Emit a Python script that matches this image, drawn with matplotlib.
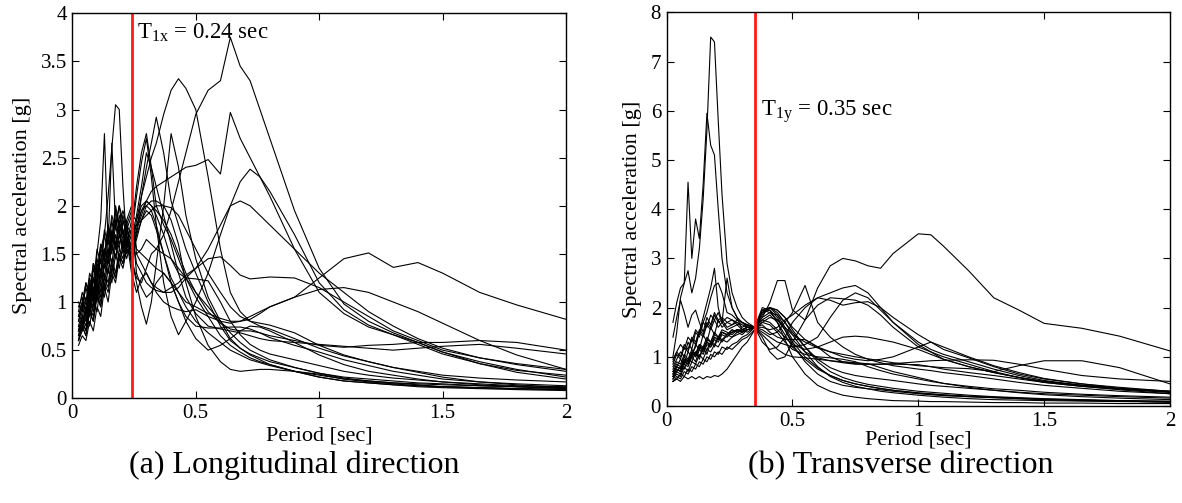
import matplotlib
matplotlib.use("Agg")
import matplotlib.pyplot as plt

plt.rcParams['font.family'] = ['Liberation Serif', 'DejaVu Serif']
plt.rcParams['mathtext.fontset'] = 'custom'
plt.rcParams['mathtext.rm'] = 'Liberation Serif'

# ---------------- longitudinal direction (periods in sec) ----------------
tx_short = [0.025, 0.04, 0.055, 0.07, 0.085, 0.10, 0.115, 0.13, 0.145, 0.16,
            0.175, 0.19, 0.205, 0.22, 0.24]
tx_long = [0.26, 0.28, 0.30, 0.32, 0.34, 0.37, 0.40, 0.43, 0.46, 0.50, 0.55,
           0.60, 0.64, 0.68, 0.72, 0.76, 0.80, 0.90, 1.00, 1.10, 1.20, 1.30,
           1.40, 1.50, 1.65, 1.80, 2.00]
period_x = tx_short + tx_long

lx01 = [0.95, 1.05, 0.90, 1.25, 1.10, 1.45, 1.30, 1.70, 1.50, 1.85, 1.60, 1.75, 1.50, 1.70, 1.45,
        1.25, 1.20, 1.35, 1.50, 1.55, 1.70, 1.95, 2.25, 2.55, 2.95, 3.20, 3.30, 3.75, 3.45, 3.30, 3.00,
        2.70, 1.95, 1.35, 0.98, 0.80, 0.68, 0.58, 0.48, 0.36, 0.27, 0.20]
lx02 = [0.80, 0.95, 1.15, 1.00, 1.35, 1.20, 1.55, 1.45, 1.75, 1.60, 1.85, 1.70, 1.90, 1.75, 1.90,
        1.85, 2.10, 2.30, 2.50, 2.65, 2.95, 3.20, 3.32, 3.22, 3.00, 2.30, 1.55, 1.10, 0.90, 0.80, 0.75,
        0.72, 0.62, 0.52, 0.44, 0.38, 0.32, 0.27, 0.22, 0.17, 0.14, 0.11]
lx03 = [0.70, 0.85, 0.80, 1.10, 1.00, 1.35, 1.25, 1.55, 1.45, 1.70, 1.55, 1.80, 1.65, 1.85, 1.35,
        1.75, 1.90, 2.05, 2.15, 2.20, 2.25, 2.30, 2.35, 2.40, 2.42, 2.48, 2.33, 2.97, 2.70, 2.50, 2.30,
        2.10, 1.55, 1.10, 0.88, 0.74, 0.66, 0.58, 0.48, 0.38, 0.30, 0.22]
lx04 = [0.75, 0.90, 1.05, 0.95, 1.25, 1.15, 1.45, 1.35, 1.65, 1.50, 1.80, 1.60, 1.75, 1.55, 1.70,
        2.10, 2.45, 2.70, 2.30, 1.80, 1.20, 0.85, 0.66, 0.80, 1.00, 1.30, 1.70, 2.00, 2.25, 2.38, 2.30,
        2.15, 1.70, 1.20, 0.92, 0.76, 0.66, 0.56, 0.46, 0.36, 0.29, 0.24]
lx05 = [1.00, 0.90, 1.20, 1.05, 1.40, 1.25, 1.60, 1.45, 1.80, 1.60, 1.95, 1.75, 1.55, 1.80, 1.95,
        1.50, 1.40, 1.30, 1.20, 1.15, 1.10, 1.10, 1.15, 1.25, 1.35, 1.55, 1.80, 2.00, 2.05, 2.00, 1.90,
        1.80, 1.55, 1.30, 1.10, 0.90, 0.75, 0.62, 0.52, 0.42, 0.36, 0.30]
lx06 = [0.60, 0.75, 0.65, 0.90, 0.80, 1.10, 0.95, 1.25, 1.15, 1.40, 1.25, 1.50, 1.40, 1.60, 1.55,
        1.70, 1.85, 1.95, 1.90, 1.75, 1.50, 1.25, 1.10, 1.00, 0.95, 0.88, 0.83, 0.80, 0.80, 0.82, 0.88,
        0.95, 1.05, 1.25, 1.45, 1.51, 1.36, 1.41, 1.30, 1.10, 0.97, 0.82]
lx07 = [0.65, 0.80, 0.70, 0.95, 0.85, 1.15, 1.00, 1.30, 1.20, 1.45, 1.30, 1.55, 1.45, 1.65, 1.30,
        1.10, 1.25, 1.30, 1.20, 1.10, 1.00, 0.95, 0.92, 0.90, 0.92, 0.85, 0.80, 0.78, 0.80, 0.85, 0.90,
        0.95, 1.05, 1.13, 1.15, 1.10, 1.00, 0.90, 0.78, 0.60, 0.45, 0.30]
lx08 = [0.85, 1.00, 0.90, 1.20, 1.05, 1.40, 1.30, 1.55, 1.40, 1.70, 1.55, 1.85, 1.70, 1.60, 1.75,
        1.40, 1.30, 1.20, 1.15, 1.12, 1.10, 1.15, 1.20, 1.28, 1.35, 1.45, 1.47, 1.38, 1.28, 1.24, 1.25,
        1.26, 1.25, 1.15, 1.00, 0.85, 0.70, 0.60, 0.50, 0.42, 0.35, 0.28]
lx09 = [0.70, 0.85, 0.75, 1.05, 0.95, 1.25, 1.10, 1.45, 1.30, 1.60, 1.45, 1.70, 1.55, 1.75, 1.65,
        1.80, 1.95, 2.05, 2.00, 1.95, 1.85, 1.70, 1.50, 1.30, 1.10, 0.90, 0.78, 0.72, 0.70, 0.70, 0.68,
        0.65, 0.60, 0.55, 0.53, 0.55, 0.56, 0.58, 0.58, 0.60, 0.58, 0.50]
lx10 = [0.60, 0.70, 0.85, 0.75, 1.00, 0.90, 1.20, 1.05, 1.35, 1.20, 1.50, 1.35, 1.60, 1.45, 1.65,
        1.90, 2.20, 2.55, 2.40, 2.20, 1.90, 1.60, 1.30, 1.05, 0.88, 0.75, 0.72, 0.70, 0.68, 0.65, 0.62,
        0.60, 0.58, 0.56, 0.54, 0.52, 0.50, 0.52, 0.54, 0.56, 0.52, 0.46]
lx11 = [0.90, 1.10, 1.00, 1.30, 1.20, 1.55, 1.40, 1.75, 1.60, 2.65, 1.80, 2.00, 1.85, 1.70, 1.75,
        2.20, 2.55, 2.75, 2.40, 2.00, 1.80, 1.65, 1.45, 1.25, 1.05, 0.85, 0.65, 0.55, 0.48, 0.42, 0.38,
        0.35, 0.28, 0.24, 0.20, 0.18, 0.16, 0.15, 0.14, 0.13, 0.12, 0.10]
lx12 = [0.75, 0.70, 0.95, 0.85, 1.15, 1.05, 1.35, 1.25, 1.55, 1.40, 1.70, 1.55, 1.85, 1.70, 1.40,
        1.70, 2.10, 2.40, 2.65, 2.92, 2.55, 2.05, 1.80, 1.55, 1.30, 1.00, 0.75, 0.60, 0.52, 0.46, 0.42,
        0.38, 0.32, 0.26, 0.22, 0.20, 0.18, 0.16, 0.15, 0.13, 0.12, 0.11]
lx13 = [0.55, 0.65, 0.60, 0.80, 0.70, 0.95, 0.85, 1.15, 1.00, 1.30, 1.20, 1.45, 1.35, 1.55, 1.45,
        1.20, 0.95, 0.77, 1.00, 1.40, 2.00, 2.75, 2.40, 1.90, 1.45, 1.05, 0.80, 0.62, 0.52, 0.45, 0.40,
        0.35, 0.28, 0.22, 0.18, 0.16, 0.14, 0.13, 0.12, 0.11, 0.10, 0.09]
lx14 = [0.70, 0.80, 0.95, 0.85, 1.10, 1.00, 1.30, 1.15, 1.45, 1.30, 1.60, 1.45, 1.65, 1.50, 1.60,
        1.75, 1.95, 2.00, 1.95, 1.80, 1.50, 1.20, 1.00, 0.85, 0.75, 0.73, 0.73, 0.74, 0.74, 0.72, 0.68,
        0.63, 0.55, 0.48, 0.40, 0.34, 0.28, 0.24, 0.20, 0.17, 0.15, 0.13]
lx15 = [0.60, 0.75, 0.65, 0.90, 0.80, 1.05, 0.95, 1.20, 1.10, 1.35, 1.25, 1.50, 1.40, 1.55, 1.50,
        1.65, 1.85, 2.00, 2.05, 2.05, 2.00, 1.85, 1.60, 1.20, 0.85, 0.55, 0.38, 0.30, 0.28, 0.29, 0.30,
        0.30, 0.28, 0.25, 0.20, 0.17, 0.15, 0.13, 0.12, 0.11, 0.10, 0.09]
lx16 = [0.80, 0.95, 0.85, 1.15, 1.00, 1.35, 1.20, 1.55, 1.40, 1.75, 1.55, 1.90, 1.75, 1.60, 1.85,
        1.30, 1.15, 1.05, 1.10, 1.20, 1.30, 1.20, 1.00, 0.80, 0.62, 0.50, 0.55, 0.62, 0.70, 0.75, 0.74,
        0.70, 0.58, 0.45, 0.35, 0.28, 0.24, 0.20, 0.17, 0.14, 0.12, 0.10]
lx17 = [0.65, 0.80, 0.70, 1.00, 0.90, 1.20, 1.05, 1.40, 1.30, 1.60, 1.45, 1.70, 1.60, 1.80, 1.50,
        1.85, 2.00, 2.05, 2.00, 1.90, 1.70, 1.45, 1.30, 1.25, 1.24, 1.22, 1.00, 0.80, 0.66, 0.56, 0.50,
        0.46, 0.40, 0.34, 0.28, 0.24, 0.21, 0.19, 0.17, 0.15, 0.13, 0.12]
lx18 = [0.85, 1.00, 1.20, 1.10, 1.40, 1.30, 1.60, 1.50, 1.80, 1.65, 2.00, 1.80, 1.95, 1.80, 1.70,
        1.80, 1.85, 1.90, 1.95, 2.00, 2.00, 1.98, 1.90, 1.75, 1.55, 1.30, 1.10, 0.95, 0.85, 0.80, 0.78,
        0.76, 0.68, 0.55, 0.45, 0.38, 0.32, 0.28, 0.24, 0.21, 0.19, 0.17]
lx19 = [0.70, 0.85, 1.00, 0.90, 1.25, 1.10, 1.55, 1.70, 2.10, 2.60, 3.05, 3.00, 2.20, 1.60, 1.55,
        1.50, 1.55, 1.65, 1.60, 1.55, 1.50, 1.45, 1.35, 1.25, 1.10, 0.95, 0.80, 0.68, 0.58, 0.50, 0.45,
        0.40, 0.32, 0.26, 0.21, 0.18, 0.16, 0.14, 0.12, 0.11, 0.10, 0.09]
lx20 = [0.60, 0.75, 0.90, 1.20, 1.05, 1.50, 1.85, 2.75, 1.60, 1.90, 1.75, 2.00, 1.70, 1.85, 2.00,
        1.55, 1.50, 1.45, 1.40, 1.35, 1.30, 1.20, 1.10, 0.95, 0.80, 0.68, 0.58, 0.50, 0.45, 0.40, 0.37,
        0.34, 0.28, 0.22, 0.18, 0.16, 0.14, 0.12, 0.11, 0.10, 0.09, 0.08]

# ---------------- transverse direction ----------------
ty_short = [0.025, 0.04, 0.055, 0.07, 0.085, 0.10, 0.115, 0.13, 0.145, 0.16,
            0.175, 0.19, 0.205, 0.22, 0.24, 0.26, 0.28, 0.30, 0.32, 0.35]
ty_long = [0.38, 0.41, 0.44, 0.47, 0.50, 0.55, 0.60, 0.65, 0.70, 0.75, 0.80,
           0.85, 0.90, 1.00, 1.05, 1.10, 1.20, 1.30, 1.40, 1.50, 1.65, 1.80, 2.00]
period_y = ty_short + ty_long

ly01 = [1.70, 2.10, 2.40, 2.50, 2.75, 2.30, 2.60, 3.20, 4.20, 5.60, 7.50, 7.40, 5.80, 4.30, 2.90, 2.30, 2.00, 1.80, 1.70, 1.60,
        1.75, 1.85, 1.70, 1.45, 1.20, 0.95, 0.75, 0.62, 0.52, 0.45, 0.40, 0.36, 0.32, 0.27, 0.25, 0.23, 0.20, 0.18, 0.16, 0.14, 0.12, 0.10, 0.08]
ly02 = [1.00, 1.50, 2.20, 2.50, 4.55, 3.00, 3.80, 3.40, 4.50, 5.95, 5.30, 5.10, 4.00, 3.00, 2.30, 2.00, 1.80, 1.70, 1.65, 1.60,
        1.90, 2.00, 1.95, 1.80, 1.55, 1.20, 0.90, 0.70, 0.58, 0.50, 0.44, 0.40, 0.36, 0.30, 0.28, 0.26, 0.22, 0.19, 0.17, 0.15, 0.13, 0.11, 0.09]
ly03 = [0.60, 0.75, 0.70, 0.90, 0.85, 1.00, 1.10, 0.95, 1.20, 1.05, 1.30, 1.20, 1.40, 1.30, 1.45, 1.40, 1.50, 1.45, 1.55, 1.60,
        1.80, 2.10, 2.55, 2.55, 1.95, 1.75, 2.40, 2.85, 3.00, 2.95, 2.85, 2.80, 3.10, 3.50, 3.48, 3.25, 2.75, 2.20, 1.95, 1.68, 1.58, 1.42, 1.12]
ly04 = [0.90, 1.10, 1.00, 1.25, 1.15, 1.40, 1.30, 1.55, 1.45, 1.70, 1.60, 1.85, 1.70, 1.75, 1.60, 1.65, 1.70, 1.60, 1.65, 1.60,
        1.55, 1.45, 1.50, 1.70, 1.90, 2.45, 1.70, 1.40, 1.20, 1.05, 0.95, 0.88, 0.82, 0.75, 0.72, 0.68, 0.62, 0.55, 0.48, 0.42, 0.36, 0.30, 0.25]
ly05 = [0.50, 0.60, 0.55, 0.70, 0.65, 0.80, 0.75, 0.90, 0.85, 1.00, 0.95, 1.10, 1.05, 1.20, 1.15, 1.25, 1.30, 1.40, 1.45, 1.60,
        1.30, 1.15, 1.20, 1.40, 1.70, 2.00, 2.20, 2.30, 2.40, 2.45, 2.30, 2.00, 1.70, 1.25, 1.10, 0.95, 0.80, 0.68, 0.58, 0.50, 0.42, 0.35, 0.30]
ly06 = [0.70, 0.85, 0.80, 1.00, 0.90, 1.10, 1.05, 1.25, 1.15, 1.35, 1.30, 1.50, 1.40, 1.55, 1.50, 1.45, 1.55, 1.50, 1.60, 1.60,
        1.50, 1.40, 1.30, 1.25, 1.20, 1.25, 1.40, 1.80, 2.15, 2.30, 2.20, 1.95, 1.70, 1.30, 1.15, 1.05, 0.90, 0.75, 0.62, 0.52, 0.42, 0.35, 0.28]
ly07 = [0.85, 1.05, 0.95, 1.20, 1.10, 1.35, 1.25, 1.50, 1.40, 1.65, 1.55, 1.75, 1.60, 1.70, 1.55, 1.60, 1.65, 1.55, 1.60, 1.60,
        1.60, 1.55, 1.60, 1.75, 1.85, 2.05, 2.20, 2.15, 2.05, 2.10, 2.12, 2.00, 1.80, 1.45, 1.30, 1.15, 0.98, 0.80, 0.65, 0.55, 0.45, 0.38, 0.30]
ly08 = [0.55, 0.70, 0.65, 0.85, 0.80, 1.00, 0.90, 1.15, 1.05, 1.25, 1.20, 1.35, 1.30, 1.45, 1.40, 1.50, 1.55, 1.50, 1.55, 1.60,
        1.75, 1.70, 1.55, 1.40, 1.25, 1.15, 1.20, 1.30, 1.40, 1.42, 1.40, 1.35, 1.30, 1.15, 1.05, 0.95, 0.80, 0.68, 0.58, 0.50, 0.42, 0.36, 0.30]
ly09 = [0.65, 0.80, 0.75, 0.95, 0.85, 1.10, 1.00, 1.20, 1.15, 1.30, 1.25, 1.40, 1.35, 1.50, 1.45, 1.55, 1.50, 1.55, 1.60, 1.60,
        1.85, 2.00, 1.95, 1.80, 1.60, 1.35, 1.20, 1.10, 1.00, 0.95, 0.92, 0.95, 1.00, 1.20, 1.30, 1.20, 1.00, 0.82, 0.68, 0.56, 0.45, 0.36, 0.28]
ly10 = [0.60, 0.70, 0.80, 0.75, 0.95, 0.90, 1.10, 1.00, 1.20, 1.15, 1.30, 1.25, 1.40, 1.35, 1.45, 1.50, 1.55, 1.55, 1.60, 1.60,
        1.95, 2.00, 1.85, 1.60, 1.35, 1.10, 0.98, 0.92, 0.88, 0.85, 0.85, 0.85, 0.86, 0.90, 0.92, 0.93, 0.94, 0.93, 0.85, 0.75, 0.62, 0.55, 0.50]
ly11 = [0.50, 0.55, 0.50, 0.60, 0.55, 0.60, 0.55, 0.60, 0.55, 0.60, 0.58, 0.62, 0.60, 0.65, 0.75, 0.90, 1.05, 1.20, 1.30, 1.55,
        1.70, 1.80, 1.75, 1.60, 1.45, 1.30, 1.18, 1.10, 1.05, 1.00, 0.96, 0.92, 0.88, 0.82, 0.80, 0.78, 0.76, 0.70, 0.82, 0.92, 0.92, 0.78, 0.45]
ly12 = [0.75, 0.90, 0.85, 1.05, 0.95, 1.15, 1.05, 1.25, 1.20, 1.40, 1.30, 1.45, 1.40, 1.50, 1.45, 1.50, 1.55, 1.50, 1.55, 1.60,
        1.65, 1.50, 1.40, 1.35, 1.35, 1.35, 1.20, 1.00, 0.90, 0.86, 0.85, 0.85, 0.85, 0.84, 0.80, 0.75, 0.68, 0.62, 0.55, 0.48, 0.40, 0.33, 0.25]
ly13 = [0.55, 0.65, 0.60, 0.80, 0.70, 0.90, 0.85, 1.05, 0.95, 1.15, 1.10, 1.25, 1.20, 1.35, 1.30, 1.40, 1.45, 1.50, 1.55, 1.60,
        2.00, 1.95, 1.70, 1.35, 1.00, 0.65, 0.42, 0.30, 0.22, 0.18, 0.15, 0.13, 0.11, 0.10, 0.09, 0.09, 0.08, 0.07, 0.07, 0.06, 0.06, 0.05, 0.05]
ly14 = [0.95, 1.10, 1.25, 1.15, 1.40, 1.30, 1.55, 1.45, 1.70, 1.60, 1.85, 1.75, 1.90, 1.70, 1.80, 1.75, 1.65, 1.70, 1.60, 1.60,
        1.90, 1.95, 1.80, 1.55, 1.25, 0.90, 0.65, 0.50, 0.42, 0.38, 0.35, 0.33, 0.30, 0.25, 0.23, 0.21, 0.19, 0.17, 0.15, 0.13, 0.11, 0.10, 0.08]
ly15 = [0.70, 0.80, 0.95, 0.85, 1.10, 1.00, 1.25, 1.15, 1.45, 1.30, 1.60, 1.45, 1.75, 1.60, 1.70, 1.65, 1.75, 1.70, 1.65, 1.60,
        1.80, 1.90, 1.85, 1.70, 1.50, 1.20, 0.95, 0.78, 0.68, 0.62, 0.58, 0.55, 0.52, 0.45, 0.42, 0.40, 0.36, 0.32, 0.28, 0.25, 0.22, 0.19, 0.16]
ly16 = [0.80, 0.95, 1.10, 1.00, 1.30, 1.15, 1.50, 1.40, 1.70, 1.90, 2.20, 2.45, 2.50, 2.30, 1.90, 1.85, 1.75, 1.70, 1.65, 1.60,
        1.45, 1.30, 1.15, 1.05, 1.00, 0.98, 0.95, 0.92, 0.90, 0.88, 0.86, 0.78, 0.70, 0.58, 0.52, 0.46, 0.38, 0.32, 0.27, 0.23, 0.19, 0.16, 0.13]
ly17 = [0.60, 0.75, 0.70, 0.90, 0.85, 1.05, 1.20, 1.50, 1.80, 2.10, 2.40, 2.80, 2.00, 1.70, 2.60, 2.00, 1.80, 1.55, 1.50, 1.60,
        1.70, 1.65, 1.50, 1.30, 1.15, 1.05, 1.00, 0.98, 0.95, 0.90, 0.80, 0.72, 0.65, 0.55, 0.50, 0.46, 0.40, 0.35, 0.32, 0.28, 0.24, 0.21, 0.18]
ly18 = [1.40, 1.80, 2.15, 1.90, 1.60, 1.85, 1.95, 1.70, 1.50, 1.80, 1.65, 1.90, 1.75, 1.80, 1.70, 1.75, 1.70, 1.65, 1.60, 1.60,
        1.90, 2.00, 1.90, 1.70, 1.45, 1.10, 0.80, 0.60, 0.48, 0.40, 0.35, 0.30, 0.27, 0.22, 0.20, 0.18, 0.15, 0.13, 0.12, 0.11, 0.10, 0.09, 0.08]
ly19 = [0.50, 0.55, 0.65, 0.60, 0.75, 0.70, 0.85, 0.80, 0.95, 0.90, 1.05, 1.00, 1.10, 1.05, 1.20, 1.15, 1.25, 1.35, 1.40, 1.55,
        1.95, 1.90, 1.75, 1.55, 1.30, 1.00, 0.78, 0.62, 0.52, 0.45, 0.40, 0.35, 0.32, 0.26, 0.24, 0.22, 0.19, 0.17, 0.15, 0.13, 0.12, 0.11, 0.10]
ly20 = [0.65, 0.80, 0.75, 0.95, 0.90, 1.10, 1.00, 1.20, 1.10, 1.30, 1.20, 1.40, 1.35, 1.50, 1.45, 1.55, 1.50, 1.55, 1.60, 1.60,
        1.40, 1.10, 0.95, 1.00, 1.30, 1.75, 2.05, 2.20, 2.18, 2.15, 2.05, 1.85, 1.60, 1.20, 1.10, 1.00, 0.85, 0.70, 0.58, 0.48, 0.40, 0.34, 0.28]

curves_x = [lx01, lx02, lx03, lx04, lx05, lx06, lx07, lx08, lx09, lx10,
            lx11, lx12, lx13, lx14, lx15, lx16, lx17, lx18, lx19, lx20]
curves_y = [ly01, ly02, ly03, ly04, ly05, ly06, ly07, ly08, ly09, ly10,
            ly11, ly12, ly13, ly14, ly15, ly16, ly17, ly18, ly19, ly20]

T1x = 0.24
T1y = 0.35

fig = plt.figure(figsize=(11.82, 5.03), dpi=100)
ax1 = fig.add_axes([0.0612, 0.2082, 0.4177, 0.7654])
ax2 = fig.add_axes([0.5640, 0.1928, 0.4258, 0.7825])

def style(ax, ymax, yticks, yticklabels, xpad):
    ax.set_xlim(0, 2)
    ax.set_ylim(0, ymax)
    ax.set_xticks([0, 0.5, 1, 1.5, 2])
    ax.set_xticklabels(['0', '0.5', '1', '1.5', '2'])
    ax.set_yticks(yticks)
    ax.set_yticklabels(yticklabels)
    ax.tick_params(direction='in', top=True, right=True, length=5, width=0.8,
                   labelsize=15, pad=4)
    for s in ax.spines.values():
        s.set_linewidth(1.0)
    ax.set_xlabel('Period [sec]', fontsize=16, labelpad=xpad)
    ax.set_ylabel('Spectral acceleration [g]', fontsize=16, labelpad=6)

for c in curves_x:
    ax1.plot(period_x, c, color='black', linewidth=0.8)
ax1.axvline(T1x, color='#ff1a1a', linewidth=2)
style(ax1, 4, [0, 0.5, 1, 1.5, 2, 2.5, 3, 3.5, 4],
      ['0', '0.5', '1', '1.5', '2', '2.5', '3', '3.5', '4'], 3)
ax1.text(0.262, 3.74, r'T$_{\mathrm{1x}}$ = 0.24 sec', fontsize=16.5)

for c in curves_y:
    ax2.plot(period_y, c, color='black', linewidth=0.8)
ax2.axvline(T1y, color='#ff1a1a', linewidth=2)
style(ax2, 8, [0, 1, 2, 3, 4, 5, 6, 7, 8],
      ['0', '1', '2', '3', '4', '5', '6', '7', '8'], 0)
ax2.text(0.375, 5.9, r'T$_{\mathrm{1y}}$ = 0.35 sec', fontsize=16.5)

fig.text(0.249, 0.075, '(a) Longitudinal direction', fontsize=23, ha='center', va='center')
fig.text(0.762, 0.075, '(b) Transverse direction', fontsize=23, ha='center', va='center')

fig.savefig('out.png', dpi=100)
